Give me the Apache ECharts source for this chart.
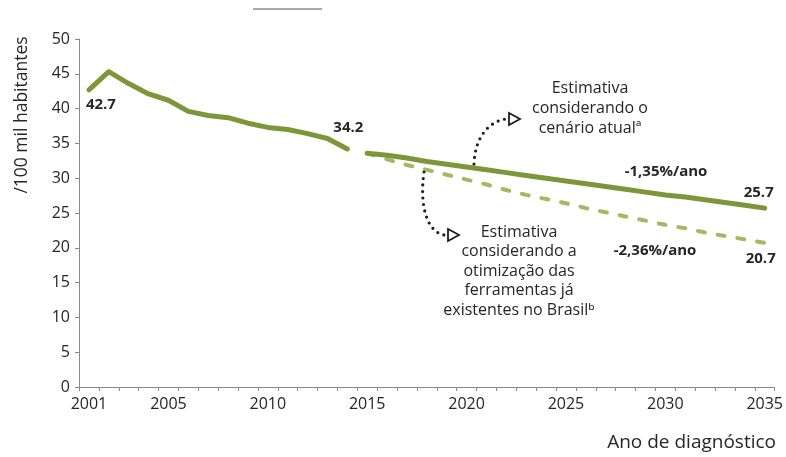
<!DOCTYPE html>
<html>
<head>
<meta charset="utf-8">
<script src="https://cdn.jsdelivr.net/npm/echarts@6/dist/echarts.min.js"></script>
<style>
  html, body { margin: 0; padding: 0; background: #fff; }
  #main { width: 786px; height: 457px; }
</style>
</head>
<body>
<div id="main"></div>
<script>
// anos (eixo x)
var years = ['2001', '2002', '2003', '2004', '2005', '2006', '2007', '2008', '2009', '2010',
  '2011', '2012', '2013', '2014', '2015', '2016', '2017', '2018', '2019', '2020',
  '2021', '2022', '2023', '2024', '2025', '2026', '2027', '2028', '2029', '2030',
  '2031', '2032', '2033', '2034', '2035'];
var yearLabels = ['2001', '2005', '2010', '2015', '2020', '2025', '2030', '2035'];
var yTicks = [0, 5, 10, 15, 20, 25, 30, 35, 40, 45, 50];

// taxa observada 2001-2014
var observed = [42.7, 45.3, 43.6, 42.1, 41.2, 39.6, 39.0, 38.7, 37.9, 37.3, 37.0, 36.4, 35.7, 34.2];
// estimativa cenario atual 2015-2035 (-1,35%/ano)
var cenarioAtual = [33.6, 33.3, 32.9, 32.4, 32.0, 31.6, 31.2, 30.8, 30.4, 30.0, 29.6,
  29.2, 28.8, 28.4, 28.0, 27.6, 27.3, 26.9, 26.5, 26.1, 25.7];
// estimativa otimizacao das ferramentas 2015-2035 (-2,36%/ano)
var cenarioOtimizado = [33.6, 32.7, 31.9, 31.2, 30.5, 29.8, 29.1, 28.3, 27.6, 27.0, 26.4,
  25.7, 25.1, 24.5, 23.9, 23.3, 22.8, 22.2, 21.7, 21.2, 20.7];

var FONT = '"Open Sans", "Noto Sans", sans-serif';
var GREEN = '#7e963a';
var GREEN_LIGHT = '#a5b862';
var TXT = '#262626';

var chart = echarts.init(document.getElementById('main'));

// coloca os valores no lugar certo do eixo e marca os rotulos
function placeData(values, start, labels) {
  var out = [];
  for (var i = 0; i < years.length; i++) {
    var k = i - start;
    if (k < 0 || k >= values.length) { out.push(null); continue; }
    var item = { value: values[k] };
    if (labels[k]) item.label = labels[k];
    out.push(item);
  }
  return out;
}

var boldLabel = function (pos, dist, off) {
  return {
    show: true, position: pos, distance: dist, offset: off || [0, 0],
    fontFamily: FONT, fontSize: 15, fontWeight: 'bold', color: TXT
  };
};

var obsLabels = {};
obsLabels[0] = boldLabel('bottom', 7, [12, 0]);
obsLabels[observed.length - 1] = boldLabel('top', 14, [1, 0]);
var atualLabels = {};
atualLabels[cenarioAtual.length - 1] = boldLabel('top', 8, [-6, 0]);
var otimLabels = {};
otimLabels[cenarioOtimizado.length - 1] = boldLabel('bottom', 8, [-4, 0]);

var lineSeries = function (name, data, color, width, type, z) {
  return {
    name: name,
    type: 'line',
    data: data,
    showSymbol: true,
    symbol: 'circle',
    symbolSize: 0.01,
    label: { show: false },
    lineStyle: { color: color, width: width, type: type, cap: 'round', join: 'round' },
    itemStyle: { color: color },
    emphasis: { disabled: true },
    z: z
  };
};

var option = {
  backgroundColor: '#ffffff',
  animation: false,
  grid: { left: 79, right: 11, top: 39, bottom: 70, containLabel: false },
  xAxis: {
    type: 'category',
    data: years,
    boundaryGap: true,
    axisLine: { lineStyle: { color: '#8a8a8a', width: 1 } },
    axisTick: { show: true, interval: 0, length: 4, lineStyle: { color: '#8a8a8a' } },
    axisLabel: {
      interval: 0,
      formatter: function (v) { return yearLabels.indexOf(v) >= 0 ? v : ''; },
      fontFamily: FONT, fontSize: 16, color: TXT, margin: 9
    },
    splitLine: { show: false }
  },
  yAxis: {
    type: 'value',
    min: yTicks[0],
    max: yTicks[yTicks.length - 1],
    interval: 5,
    axisLine: { show: true, lineStyle: { color: '#8a8a8a', width: 1 } },
    axisTick: { show: true, length: 4, lineStyle: { color: '#8a8a8a' } },
    axisLabel: { fontFamily: FONT, fontSize: 16, color: TXT, margin: 9 },
    splitLine: { show: false }
  },
  series: [
    lineSeries('Observado', placeData(observed, 0, obsLabels), GREEN, 5, 'solid', 3),
    lineSeries('Otimização', placeData(cenarioOtimizado, 14, otimLabels), GREEN_LIGHT, 4, [7, 13], 2),
    lineSeries('Cenário atual', placeData(cenarioAtual, 14, atualLabels), GREEN, 5, 'solid', 3)
  ],
  graphic: [
    // titulo do eixo y
    {
      type: 'text', x: 22, y: 115, rotation: Math.PI / 2,
      style: { text: '/100 mil habitantes', font: '17.5px ' + FONT, fill: TXT,
        textAlign: 'center', textVerticalAlign: 'middle' }
    },
    // titulo do eixo x
    {
      type: 'text', x: 776, y: 443,
      style: { text: 'Ano de diagnóstico', font: '19px ' + FONT, fill: TXT,
        textAlign: 'right', textVerticalAlign: 'middle' }
    },
    // taxas anuais
    {
      type: 'text', x: 666, y: 172,
      style: { text: '-1,35%/ano', font: 'bold 15px ' + FONT, fill: TXT,
        textAlign: 'center', textVerticalAlign: 'middle' }
    },
    {
      type: 'text', x: 655, y: 251,
      style: { text: '-2,36%/ano', font: 'bold 15px ' + FONT, fill: TXT,
        textAlign: 'center', textVerticalAlign: 'middle' }
    },
    // anotacoes
    {
      type: 'text', x: 590, y: 108,
      style: { text: 'Estimativa\nconsiderando o\ncenário atualª', font: '16px ' + FONT, fill: TXT,
        lineHeight: 20, textAlign: 'center', textVerticalAlign: 'middle' }
    },
    {
      type: 'text', x: 519, y: 271,
      style: { text: 'Estimativa\nconsiderando a\notimização das\nferramentas já\nexistentes no Brasilᵇ',
        font: '16px ' + FONT, fill: TXT, lineHeight: 19.5,
        textAlign: 'center', textVerticalAlign: 'middle' }
    },
    // setas pontilhadas
    {
      type: 'bezierCurve', z: 10,
      shape: { x1: 474, y1: 164, cpx1: 475, cpy1: 136, cpx2: 490, cpy2: 121, x2: 506, y2: 119 },
      style: { stroke: '#1e1e1e', lineWidth: 3.2, lineDash: [0, 6.5], lineCap: 'round', fill: null }
    },
    {
      type: 'polygon', z: 10,
      shape: { points: [[509, 113], [509, 125], [520, 119]] },
      style: { stroke: '#1e1e1e', lineWidth: 1.8, fill: '#ffffff' }
    },
    {
      type: 'bezierCurve', z: 10,
      shape: { x1: 424, y1: 172, cpx1: 419, cpy1: 208, cpx2: 428, cpy2: 232, x2: 444, y2: 235 },
      style: { stroke: '#1e1e1e', lineWidth: 3.2, lineDash: [0, 6.5], lineCap: 'round', fill: null }
    },
    {
      type: 'polygon', z: 10,
      shape: { points: [[448, 229], [448, 241], [459, 235]] },
      style: { stroke: '#1e1e1e', lineWidth: 1.8, fill: '#ffffff' }
    },
    // risco cinza no topo (corte da figura original)
    {
      type: 'line',
      shape: { x1: 253, y1: 9, x2: 322, y2: 9 },
      style: { stroke: '#8c8c8c', lineWidth: 1.5 }
    }
  ]
};

chart.setOption(option);
</script>
</body>
</html>
